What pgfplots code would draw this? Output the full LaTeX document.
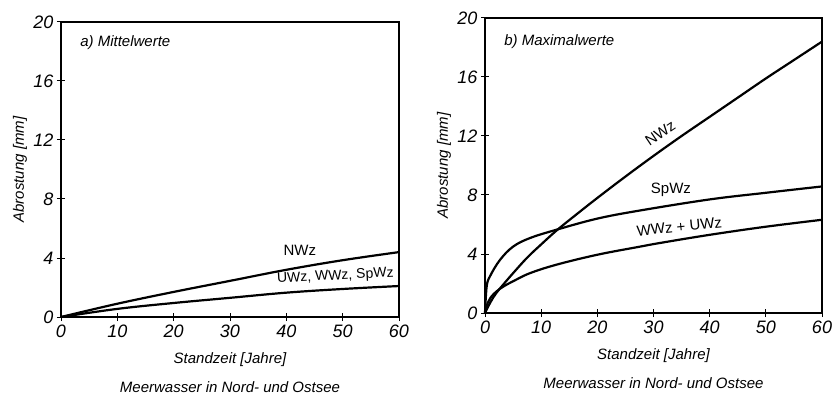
\documentclass[border=0pt]{standalone}
\usepackage{fontspec}
\setmainfont{Liberation Sans}
\usepackage{pgfplots}
\pgfplotsset{compat=1.18}
\pgfplotstableread{
x y
0 0
10 0.9
20 1.7
30 2.45
40 3.2
50 3.85
60 4.4
}\aNWz
\pgfplotstableread{
x y
0 0
10 0.55
20 0.95
30 1.3
40 1.65
50 1.9
60 2.1
}\aRest
\pgfplotstableread{
x y
0 0
1 0.75
2 1.35
3.3 1.95
5 2.7
7.5 3.75
10 4.65
12.76 5.6
16 6.6
20 7.8
25 9.25
30 10.65
35 12.0
40 13.3
45 14.6
50 15.9
55 17.15
60 18.4
}\bNWz
\pgfplotstableread{
x y
0 0
0.3 1.8
0.9 2.5
2.67 3.6
5 4.5
8 5.08
12.76 5.65
20 6.4
27.6 6.95
40 7.7
50 8.15
60 8.58
}\bSpWz
\pgfplotstableread{
x y
0 0
0.5 0.7
1 1.05
2 1.45
3.3 1.8
5 2.15
8 2.7
12.76 3.28
20 3.95
27.6 4.5
31.2 4.75
40 5.3
50 5.85
60 6.32
}\bWWz
\pgfplotsset{panel/.style={
  scale only axis, width=337pt, height=295pt,
  xmin=0, xmax=60, ymin=0, ymax=20, clip=false,
  xtick={0,10,...,60}, ytick={0,4,...,20},
  xtick pos=bottom, ytick pos=left,
  tick align=center, major tick length=8pt,
  tick style={line width=1pt, black},
  axis line style={line width=1.3pt},
  /pgf/number format/assume math mode=true,
  tick label style={font=\fontsize{18}{18}\selectfont\itshape},
  xlabel={Standzeit [Jahre]}, ylabel={Abrostung [mm]},
  every axis x label/.style={at={([yshift=-43pt]axis description cs:0.5,0)}, anchor=center, font=\fontsize{15}{15}\selectfont\itshape},
  every axis y label/.style={at={([xshift=-41pt]axis description cs:0,0.5)}, anchor=center, rotate=90, font=\fontsize{15}{15}\selectfont\itshape},
},
curve/.style={black, line width=2.2pt, no markers, smooth, tension=0.6}}
\begin{document}
\begin{tikzpicture}
\useasboundingbox (0pt,0pt) rectangle (834pt,396pt);
\begin{axis}[panel, at={(61pt,79pt)}, anchor=south west, width=338pt]
\addplot[curve] table[x=x,y=y] {\aNWz};
\addplot[curve] table[x=x,y=y] {\aRest};
\node[anchor=west, font=\fontsize{15}{15}\selectfont\itshape] at (axis cs:2.8,18.6) {a) Mittelwerte};
\node[font=\fontsize{15}{15}\selectfont] at (axis cs:42.4,4.5) {NWz};
\node[font=\fontsize{14}{14}\selectfont, rotate=3] at (axis cs:48.7,2.75) {UWz, WWz, SpWz};
\node[font=\fontsize{15}{15}\selectfont\itshape] at ([yshift=-70pt]axis description cs:0.5,0) {Meerwasser in Nord- und Ostsee};
\end{axis}
\begin{axis}[panel, at={(485pt,83pt)}, anchor=south west]
\addplot[curve] table[x=x,y=y] {\bNWz};
\addplot[curve] table[x=x,y=y] {\bSpWz};
\addplot[curve] table[x=x,y=y] {\bWWz};
\node[anchor=west, font=\fontsize{15}{15}\selectfont\itshape] at (axis cs:2.8,18.4) {b) Maximalwerte};
\node[font=\fontsize{15}{15}\selectfont, rotate=34] at (axis cs:31.2,12.2) {NWz};
\node[font=\fontsize{15}{15}\selectfont] at (axis cs:33.1,8.35) {SpWz};
\node[font=\fontsize{15}{15}\selectfont, rotate=6] at (axis cs:34.6,5.85) {WWz + UWz};
\node[font=\fontsize{15}{15}\selectfont\itshape] at ([yshift=-70pt]axis description cs:0.5,0) {Meerwasser in Nord- und Ostsee};
\end{axis}
\end{tikzpicture}
\end{document}
